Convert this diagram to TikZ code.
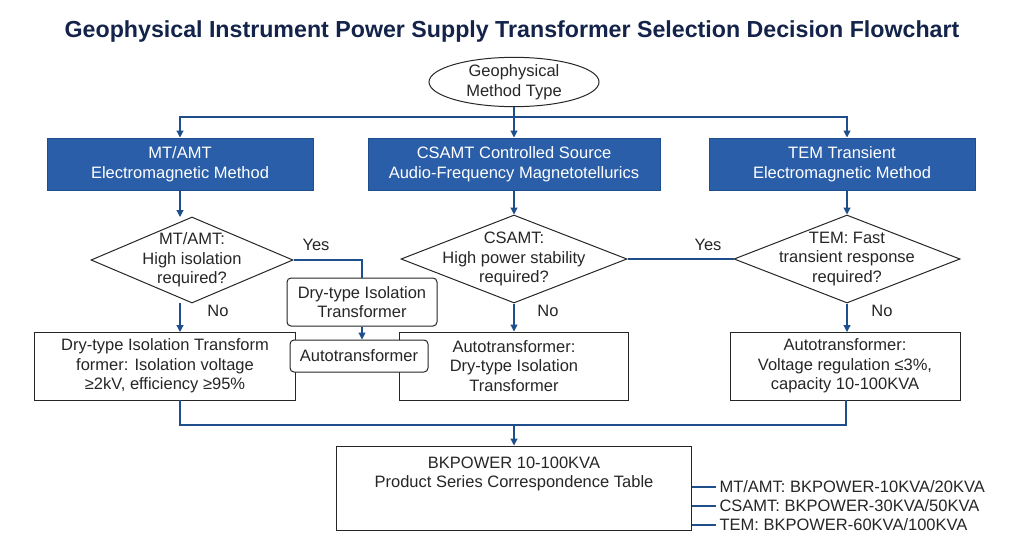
\documentclass[tikz,border=0pt]{standalone}
\usepackage{fontspec}
\setmainfont{Liberation Sans}
\usetikzlibrary{shapes.geometric,arrows.meta}
\definecolor{ln}{HTML}{1F4E8C}
\definecolor{hd}{HTML}{2A5EA8}
\definecolor{tt}{HTML}{13234A}
\begin{document}
\begin{tikzpicture}[x=1pt,y=-1pt,
  every node/.style={font=\fontsize{16.5}{19.5}\selectfont,align=center,text=black!85},
  con/.style={draw=ln,line width=1.2pt},
  arr/.style={con,-{Triangle[length=7pt,width=7pt]}},
  head/.style={draw=ln,fill=hd,text=white,line width=1pt,minimum width=266pt,minimum height=52pt,inner sep=1pt},
  dia/.style={draw=black!85,diamond,line width=1pt,inner sep=0pt},
  box/.style={draw=black!85,line width=1pt,inner sep=1pt,minimum height=68pt},
  rbox/.style={draw=black!85,fill=white,line width=1pt,rounded corners=4pt,inner sep=1pt}]
\useasboundingbox (0,0) rectangle (1024,551);
\node[font=\fontsize{23.2}{26}\bfseries,text=tt] (title) at (512,32) {Geophysical Instrument Power Supply Transformer Selection Decision Flowchart};
\node[draw=black!85,ellipse,line width=1pt,minimum width=170pt,minimum height=48pt,inner sep=0pt] (start) at (514,82) {Geophysical\\Method Type};
\node[head] (h1) at (180,164) {MT/AMT\\Electromagnetic Method};
\node[head,minimum width=292pt] (h2) at (514,164) {CSAMT Controlled Source\\Audio-Frequency Magnetotellurics};
\node[head] (h3) at (842,164) {TEM Transient\\Electromagnetic Method};
\node[dia,minimum width=202pt,minimum height=86pt] (d1) at (192,260) {};
\node at (192,260) {MT/AMT:\\High isolation\\required?};
\node[dia,minimum width=226pt,minimum height=88pt] (d2) at (514,259) {};
\node at (514,259) {CSAMT:\\High power stability\\required?};
\node[dia,minimum width=226pt,minimum height=88pt] (d3) at (847,259) {};
\node at (847,259) {TEM: Fast\\transient response\\required?};
\node[box,minimum width=261pt] (r1) at (165,366) {Dry-type Isolation Transform\\former: Isolation voltage\\≥2kV, efficiency ≥95\%};
\node[box,minimum width=229pt] (r2) at (514,366) {Autotransformer:\\Dry-type Isolation\\Transformer};
\node[box,minimum width=230pt] (r3) at (845,366) {Autotransformer:\\Voltage regulation ≤3\%,\\capacity 10-100KVA};
\node[rbox,minimum width=150pt,minimum height=48pt] (y1) at (362,302) {Dry-type Isolation\\Transformer};
\node[rbox,minimum width=138pt,minimum height=32pt] (a1) at (359,356) {Autotransformer};
\node[box,minimum width=355pt,minimum height=84pt] (tab) at (514,488) {};
\node at (514,474) {BKPOWER 10-100KVA\\Product Series Correspondence Table};
\node[anchor=west] (l1) at (716,487) {MT/AMT: BKPOWER-10KVA/20KVA};
\node[anchor=west] (l2) at (716,506) {CSAMT: BKPOWER-30KVA/50KVA};
\node[anchor=west] (l3) at (716,525) {TEM: BKPOWER-60KVA/100KVA};
\node (yes1) at (316,245) {Yes};
\node (yes2) at (708,245) {Yes};
\node (no1) at (218,311) {No};
\node (no2) at (548,311) {No};
\node (no3) at (882,311) {No};
\coordinate (bar) at (514,117);
\coordinate (bot) at (514,425);
% connectors
\draw[con] (start.south) -- (bar);
\draw[arr] (bar) -| (h1.north -| 180,0);
\draw[arr] (bar) -- (h2.north);
\draw[arr] (bar) -| (h3.north -| 847,0);
\draw[arr] (180,190) -- (180,217);
\draw[arr] (h2.south) -- (d2.north);
\draw[arr] (847,190) -- (d3.north);
\draw[arr] (180,303) -- (180,332);
\draw[arr] (d2.south) -- (r2.north);
\draw[arr] (d3.south) -- (847,332);
\draw[con] (d1.east) -| (y1.north);
\draw[arr] (y1.south) -- (y1.south |- a1.north);
\draw[con] (d2.east) -- (d3.west);
\draw[con] (180,400) |- (bot) -| (846,400);
\draw[arr] (bot) -- (tab.north);
\foreach \y/\n in {487/l1,506/l2,525/l3} \draw[con] (tab.east |- 0,\y) -- (\n.west);
\end{tikzpicture}
\end{document}
